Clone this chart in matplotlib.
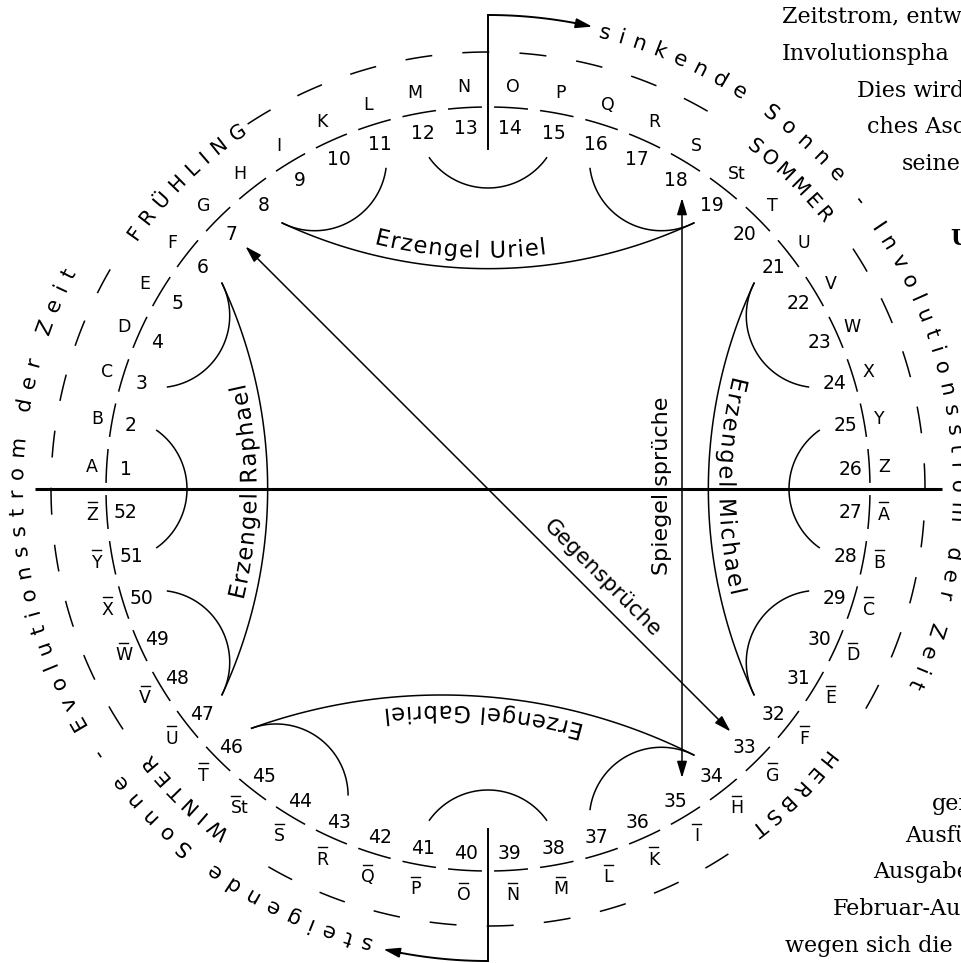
import numpy as np
import matplotlib
matplotlib.use("Agg")
import matplotlib.pyplot as plt
from matplotlib.font_manager import FontProperties, findfont, get_font
from matplotlib.patches import PathPatch
from matplotlib.path import Path
from matplotlib.textpath import TextPath

SANS = "DejaVu Sans"
SERIF = "DejaVu Serif"

# ring labels, clockwise from the left end of the horizontal line
letters = ["A", "B", "C", "D", "E", "F", "G", "H", "I", "K", "L", "M", "N",
           "O", "P", "Q", "R", "S", "St", "T", "U", "V", "W", "X", "Y", "Z"]
numbers = list(range(1, 53))
ring_letters = letters + letters
barred = [False] * 26 + [True] * 26

# scallop arcs sit on the boundary after these numbers
scallops = [52, 4, 9, 13, 17, 22, 26, 30, 35, 39, 44, 48]

angels = ["Erzengel Uriel", "Erzengel Michael", "Erzengel Gabriel", "Erzengel Raphael"]
angel_from = [9, 22, 35, 48]
angel_to = [17, 30, 44, 4]
angel_shift = [-28, -3, -10, -3]
angel_width = [174, 222, 203, 219]

seasons = ["FRÜHLING", "SOMMER", "HERBST", "WINTER"]
season_first = [144.2, 52.0, -38.4, -128.3]
season_last = [125.1, 39.2, -51.4, -140.8]

ring_right = "sinkende Sonne - Involutionsstrom der Zeit"
ring_left = "steigende Sonne - Evolutionsstrom der Zeit"
ring_right_deg = (75.6, -24.6)
ring_left_deg = (255.1, 152.9)

page_lines = ["Zeitstrom, entw", "Involutionspha", "Dies wird", "ches Asc", "seine", "U",
              "ger", "Ausfü", "Ausgabe", "Februar-Auf", "wegen sich die"]
page_x = [782, 782, 857, 867, 902, 950, 932, 905, 873, 833, 785]
page_y = [22, 60, 97, 133, 170, 245, 810, 842, 878, 915, 952]
page_bold = [False] * 5 + [True] + [False] * 5

# geometry (pixels)
CX, CY = 488, 489
R_IN, R_OUT = 382, 437
STEP = 360 / 52


def polar(r, deg, cx=CX, cy=CY):
    t = np.radians(deg)
    return cx + r * np.cos(t), cy - r * np.sin(t)


fig = plt.figure(figsize=(9.61, 9.63), dpi=100)
ax = fig.add_axes([0, 0, 1, 1])
ax.set_xlim(0, 961)
ax.set_ylim(963, 0)
ax.axis("off")


def arc(r, d0, d1, cx=CX, cy=CY, lw=1.0, n=40):
    x, y = polar(r, np.linspace(d0, d1, n), cx, cy)
    ax.plot(x, y, color="black", lw=lw, solid_capstyle="butt")


def arc_text(s, cx, cy, r, size, a0, a1=None, width=None, inward=False):
    fp = FontProperties(family=SANS)
    font = get_font(findfont(fp))
    font.set_size(size, 72)
    adv = np.array([font.load_char(ord(ch)).linearHoriAdvance / 65536.0 for ch in s])
    n = len(s)
    if a1 is not None:
        span = r * np.radians(abs(a1 - a0))
        track = (span - (adv[:-1].sum() + adv[-1] / 2 - adv[0] / 2)) / (n - 1)
    else:
        track = (width - adv.sum()) / (n - 1)
    lefts = np.concatenate([[0.0], np.cumsum(adv[:-1])]) + track * np.arange(n)
    if a1 is not None:
        uref, sign = lefts[0] + adv[0] / 2, np.sign(a1 - a0)
    else:
        uref, sign = (lefts[-1] + adv[-1]) / 2, (1 if inward else -1)
    verts, codes = [], []
    for ch, x0 in zip(s, lefts):
        if ch == " ":
            continue
        tp = TextPath((x0, 0), ch, size=size, prop=fp)
        if len(tp.vertices):
            verts.append(tp.vertices)
            codes.append(tp.codes)
    v = np.concatenate(verts)
    th = np.radians(a0) + sign * (v[:, 0] - uref) / r
    rr = r - v[:, 1] if inward else r + v[:, 1]
    xy = np.column_stack([cx + rr * np.cos(th), cy - rr * np.sin(th)])
    ax.add_patch(PathPatch(Path(xy, np.concatenate(codes)), facecolor="black",
                           edgecolor="none", lw=0))


# inner dashed ring with letters outside and numbers inside
for k in numbers:
    th = 180 + STEP / 2 - STEP * k
    arc(R_IN, th - 2.55, th + 2.55, lw=1.1, n=8)
    s = abs(np.sin(np.radians(th)))
    lx, ly = polar(396 + 9 * s, th)
    lab = ring_letters[k - 1]
    ax.text(lx, ly, lab, fontsize=12.5, family=SANS, ha="center", va="center_baseline")
    if barred[k - 1]:
        bx = lx - 3.5 if lab == "St" else lx
        ax.plot([bx - 4.5, bx + 4.5], [ly - 10.5, ly - 10.5], color="black", lw=1.0)
    nx, ny = polar(363, th)
    ax.text(nx, ny, str(k), fontsize=13.5, family=SANS, ha="center", va="center_baseline")

# outer dashed ring, broken where the season names stand
season_mid = [(a + b) / 2 for a, b in zip(season_first, season_last)]
for i in range(48):
    c = 91.6 - 7.5 * i
    if min(abs((c - m + 180) % 360 - 180) for m in season_mid) < 10.5:
        continue
    arc(R_OUT, c - 1.77, c + 1.77, lw=1.1, n=6)

for name, a0, a1 in zip(seasons, season_first, season_last):
    arc_text(name, CX, CY, 429, 20, a0, a1)

arc_text(ring_right, CX, CY, 465, 21, *ring_right_deg)
arc_text(ring_left, CX, CY, 465, 21, *ring_left_deg)

# scallops
D_S, R_S, R_E = 373, 72, 337
dmax = np.degrees(np.arccos((D_S ** 2 + R_S ** 2 - R_E ** 2) / (2 * D_S * R_S)))


def scallop_end(k, larger):
    phi = 180 - STEP * k
    sx, sy = polar(D_S, phi)
    beta = phi + 180 - dmax if larger else phi + 180 + dmax
    return np.array(polar(R_S, beta, sx, sy))


for k in scallops:
    phi = 180 - STEP * k
    sx, sy = polar(D_S, phi)
    arc(R_S, phi + 180 - dmax, phi + 180 + dmax, sx, sy, lw=1.1)

# archangel arcs
SAG = 46
for name, a, b, shift, w in zip(angels, angel_from, angel_to, angel_shift, angel_width):
    p1, p2 = scallop_end(a, True), scallop_end(b, False)
    m = (p1 + p2) / 2
    h = np.linalg.norm(p2 - p1) / 2
    nv = np.array([CX, CY]) - m
    nv /= np.linalg.norm(nv)
    rho = (h ** 2 + SAG ** 2) / (2 * SAG)
    o = m + (SAG - rho) * nv
    psi = np.degrees(np.arctan2(-nv[1], nv[0]))
    half = np.degrees(np.arcsin(h / rho))
    arc(rho, psi - half, psi + half, o[0], o[1], lw=1.1, n=80)
    rt = rho - 11
    arc_text(name, o[0], o[1], rt, 23, psi + np.degrees(shift / rt), width=w, inward=True)

# axes of the figure
ax.plot([35, 942], [CY, CY], color="black", lw=2.2, solid_capstyle="butt")
ax.plot([CX, CX], [CY - 340, CY - 474], color="black", lw=1.4)
arc(474, 90, 78.5, lw=1.4)
ax.annotate("", xy=polar(474, 77.3), xytext=polar(474, 79.5),
            arrowprops=dict(arrowstyle="-|>,head_length=1.0,head_width=0.3",
                            color="black", lw=1.2, shrinkA=0, shrinkB=0))
ax.plot([CX, CX], [CY + 340, CY + 472], color="black", lw=1.4)
arc(472, -90, -101.6, lw=1.4)
ax.annotate("", xy=polar(472, -102.8), xytext=polar(472, -100.6),
            arrowprops=dict(arrowstyle="-|>,head_length=1.0,head_width=0.3",
                            color="black", lw=1.2, shrinkA=0, shrinkB=0))

dbl = dict(arrowstyle="<|-|>,head_length=1.0,head_width=0.3", color="black",
           lw=1.1, shrinkA=0, shrinkB=0)
ax.annotate("", xy=(682, 198), xytext=(682, 778), arrowprops=dbl)
ax.annotate("", xy=polar(343, 135), xytext=polar(343, -45), arrowprops=dbl)

ax.text(668, 486, "Spiegel sprüche", fontsize=16, family=SANS, rotation=90,
        rotation_mode="anchor", ha="center", va="baseline")
ax.text(598, 583, "Gegensprüche", fontsize=15.5, family=SANS, rotation=-45,
        rotation_mode="anchor", ha="center", va="baseline")

# book text around the figure (cut by the page edge, as in the scan)
for s, x, y, b in zip(page_lines, page_x, page_y, page_bold):
    ax.text(x, y, s, fontsize=16, family=SERIF, ha="left", va="baseline",
            weight="bold" if b else "normal")

fig.savefig("out.png", dpi=100)
